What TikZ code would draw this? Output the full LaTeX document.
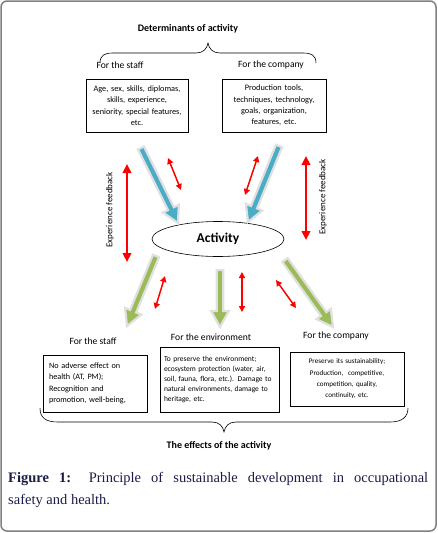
\documentclass[tikz,border=0pt]{standalone}
\usepackage{fontspec}
\setmainfont{Carlito}
\newfontfamily\capfont{Liberation Serif}
\usetikzlibrary{calc,arrows.meta,shapes.geometric}
\definecolor{aqua}{RGB}{75,172,198}
\definecolor{olivegr}{RGB}{155,187,89}
\definecolor{capblue}{RGB}{28,28,72}
\newcommand\blkarrow[3]{% #1 colour, #2 from, #3 to
  \coordinate (bkN) at ($(#3)!16pt!(#2)$);
  \filldraw[fill=#1, draw=black!12, line width=2.2pt, line join=miter, miter limit=4]
    ($(#2)!3.3pt!90:(#3)$) -- ($(bkN)!3.3pt!90:(#3)$) -- ($(bkN)!8.8pt!90:(#3)$) --
    (#3) -- ($(bkN)!8.8pt!-90:(#3)$) -- ($(bkN)!3.3pt!-90:(#3)$) --
    ($(#2)!3.3pt!-90:(#3)$) -- cycle;
}
\begin{document}
\begin{tikzpicture}[x=1pt,y=-1pt,
  box/.style={draw, line width=0.6pt},
  lbl/.style={font=\fontsize{9.6pt}{11pt}\selectfont},
  ttl/.style={font=\bfseries\fontsize{10pt}{12pt}\selectfont},
  redsmall/.style={red, line width=1.5pt, {Triangle[width=6pt,length=6pt]}-{Triangle[width=6pt,length=6pt]}},
  redlong/.style={red, line width=2.6pt, {Triangle[width=8.5pt,length=9pt]}-{Triangle[width=8.5pt,length=9pt]}},
  fb/.style={rotate=90, font=\fontsize{9pt}{10pt}\selectfont},
]
\useasboundingbox (0,0) rectangle (437,533);
\draw[gray, line width=1.5pt, rounded corners=6pt] (1,1) rectangle (436,531);

% titles and labels
\node[ttl] (det) at (188,29) {Determinants of activity};
\node[lbl] (ts) at (120,65) {For the staff};
\node[lbl] (tc) at (271,65) {For the company};

\draw[line width=0.6pt] (100,63) .. controls (100,55) and (105,53) .. (113,53) -- (196,53)
  .. controls (203,53) and (207,49) .. (208,43) .. controls (209,49) and (213,53) .. (220,53)
  -- (303,53) .. controls (311,53) and (316,55) .. (316,63);

\node[box, minimum width=102pt, minimum height=53pt, text width=96pt, inner sep=3pt, align=center,
  font=\fontsize{8.3pt}{11.3pt}\selectfont] (b1) at (137,105.5)
  {Age, sex, skills, diplomas,\\ skills, experience,\\ seniority, special features,\\ etc.};
\node[box, minimum width=104pt, minimum height=53pt, text width=98pt, inner sep=3pt, align=center,
  font=\fontsize{8.3pt}{11.3pt}\selectfont] (b2) at (274,105.5)
  {Production tools,\\ techniques, technology,\\ goals, organization,\\ features, etc.};

% activity
\node[draw, ellipse, line width=0.6pt, minimum width=132pt, minimum height=35pt,
  font=\bfseries\fontsize{13.5pt}{15pt}\selectfont] (act) at (218,239) {Activity};

\node[fb] (fbl) at (110,210) {Experience feedback};
\node[fb] (fbr) at (323,197) {Experience feedback};

% arrow end points
\coordinate (bl1) at (141,148); \coordinate (bl2) at (178,223);
\coordinate (br1) at (279,146); \coordinate (br2) at (248,222);
\coordinate (gl1) at (156,256); \coordinate (gl2) at (127,326);
\coordinate (gm1) at (220,270); \coordinate (gm2) at (220,327);
\coordinate (gr1) at (285,260); \coordinate (gr2) at (333,327);

\blkarrow{aqua}{bl1}{bl2}
\blkarrow{aqua}{br1}{br2}
\blkarrow{olivegr}{gl1}{gl2}
\blkarrow{olivegr}{gm1}{gm2}
\blkarrow{olivegr}{gr1}{gr2}

\coordinate (r1a) at (168,158); \coordinate (r1b) at (181,190);
\coordinate (r2a) at (258,156); \coordinate (r2b) at (245,195);
\coordinate (r3a) at (165,276); \coordinate (r3b) at (155,309);
\coordinate (r4a) at (242,272); \coordinate (r4b) at (242,312);
\coordinate (r5a) at (276,280); \coordinate (r5b) at (296,308);
\coordinate (l1a) at (127,164); \coordinate (l1b) at (127,262);
\coordinate (l2a) at (306,156); \coordinate (l2b) at (306,240);
\draw[redsmall] (r1a) -- (r1b);
\draw[redsmall] (r2a) -- (r2b);
\draw[redsmall] (r3a) -- (r3b);
\draw[redsmall] (r4a) -- (r4b);
\draw[redsmall] (r5a) -- (r5b);
\draw[redlong] (l1a) -- (l1b);
\draw[redlong] (l2a) -- (l2b);

% bottom
\node[lbl] (bs) at (93,341) {For the staff};
\node[lbl] (be) at (211,337) {For the environment};
\node[lbl] (bc) at (336,336) {For the company};

\node[box, minimum width=104pt, minimum height=57pt, text width=92pt, inner sep=6pt, align=left,
  font=\fontsize{8.2pt}{11.3pt}\selectfont] (b3) at (95,383.5)
  {No adverse effect on\\ health (AT, PM);\\ Recognition and\\ promotion, well-being,};
\node[box, minimum width=119pt, minimum height=65pt, text width=111pt, inner sep=4pt, align=left,
  font=\fontsize{7.5pt}{10pt}\selectfont] (b4) at (219.5,379.5)
  {To preserve the environment;\\ ecosystem protection (water, air,\\ soil, fauna, flora, etc.). Damage to\\ natural environments, damage to\\ heritage, etc.};
\node[box, minimum width=114pt, minimum height=54pt, text width=106pt, inner sep=4pt, align=center,
  font=\fontsize{7.1pt}{11.4pt}\selectfont] (b5) at (347,379)
  {Preserve its sustainability;\\ Production,~ competitive,\\ competition, quality,\\ continuity, etc.};

\draw[line width=0.6pt] (40,408) .. controls (40,418) and (46,422) .. (58,422) -- (212,422)
  .. controls (219,422) and (223,426) .. (224,432) .. controls (225,426) and (229,422) .. (236,422)
  -- (390,422) .. controls (402,422) and (408,417) .. (408,408);

\node[ttl] (eff) at (219,446) {The effects of the activity};

\node[anchor=north west, inner sep=0pt, text width=420pt, align=justify, text=capblue,
  font=\capfont\fontsize{14.5pt}{22pt}\selectfont] (cap) at (8,472)
  {\textbf{Figure 1:} Principle of sustainable development in occupational\linebreak safety and health.};
\end{tikzpicture}
\end{document}
